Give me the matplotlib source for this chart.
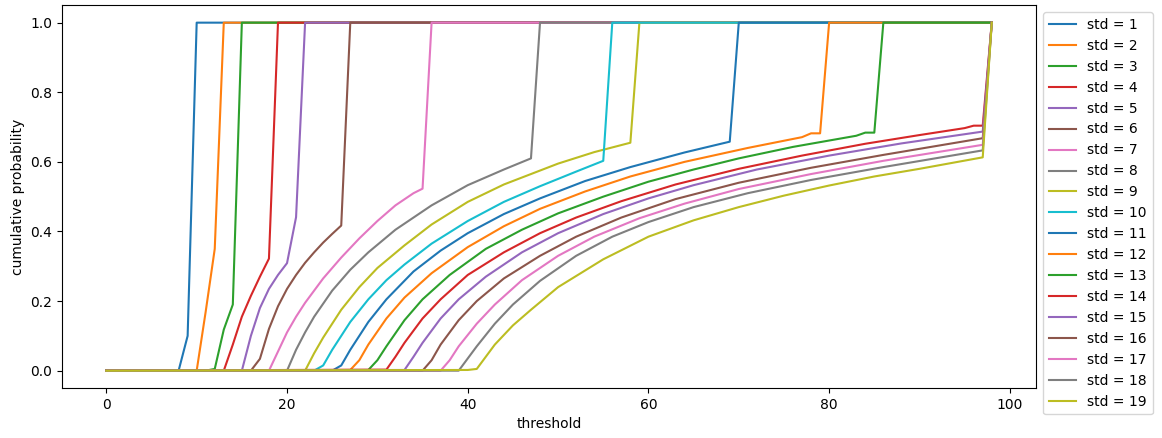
import matplotlib
matplotlib.use("Agg")
import matplotlib.pyplot as plt

# values (threshold -> cumulative probability)
t_std1 = [0, 8, 9, 10, 98]
p_std1 = [0, 0, 0.1, 1, 1]
t_std2 = [0, 10, 11, 12, 13, 98]
p_std2 = [0, 0, 0.17, 0.35, 1, 1]
t_std3 = [0, 11, 12, 13, 14, 15, 98]
p_std3 = [0, 0, 0.005, 0.118, 0.19, 1, 1]
t_std4 = [0, 13, 14, 15, 16, 17, 18, 19, 98]
p_std4 = [0, 0, 0.075, 0.155, 0.215, 0.27, 0.322, 1, 1]
t_std5 = [0, 15, 16, 17, 18, 19, 20, 21, 22, 98]
p_std5 = [0, 0, 0.1, 0.18, 0.235, 0.275, 0.309, 0.441, 1, 1]
t_std6 = [0, 16, 17, 18, 19, 20, 21, 22, 23, 24, 25, 26, 27, 98]
p_std6 = [0, 0, 0.034, 0.12, 0.185, 0.235, 0.275, 0.31, 0.34, 0.368, 0.393, 0.417, 1, 1]
t_std7 = [0, 18, 19, 20, 21, 22, 24, 26, 28, 30, 32, 34, 35, 36, 98]
p_std7 = [0, 0, 0.055, 0.11, 0.155, 0.195, 0.265, 0.325, 0.38, 0.43, 0.475, 0.51, 0.523, 1, 1]
t_std8 = [0, 20, 21, 22, 23, 25, 27, 29, 32, 36, 40, 44, 47, 48, 98]
p_std8 = [0, 0, 0.06, 0.11, 0.155, 0.23, 0.29, 0.34, 0.405, 0.475, 0.533, 0.578, 0.61, 1, 1]
t_std9 = [0, 22, 23, 24, 26, 28, 30, 33, 36, 40, 44, 50, 54, 58, 59, 98]
p_std9 = [0, 0, 0.05, 0.095, 0.175, 0.24, 0.295, 0.36, 0.42, 0.485, 0.535, 0.595, 0.628, 0.655, 1, 1]
t_std10 = [0, 23, 24, 25, 27, 29, 31, 33, 36, 40, 44, 48, 52, 55, 56, 98]
p_std10 = [0, 0, 0.015, 0.06, 0.14, 0.205, 0.26, 0.305, 0.365, 0.43, 0.485, 0.53, 0.572, 0.603, 1, 1]
t_std11 = [0, 25, 26, 27, 29, 31, 34, 37, 40, 44, 48, 53, 58, 64, 69, 70, 98]
p_std11 = [0, 0, 0.015, 0.06, 0.14, 0.205, 0.285, 0.345, 0.395, 0.45, 0.495, 0.545, 0.585, 0.627, 0.658, 1, 1]
t_std12 = [0, 27, 28, 29, 31, 33, 36, 40, 44, 48, 53, 58, 64, 71, 77, 78, 79, 80, 98]
p_std12 = [0, 0.002, 0.03, 0.075, 0.15, 0.21, 0.28, 0.355, 0.415, 0.465, 0.515, 0.558, 0.6, 0.64, 0.671, 0.682, 0.682, 1, 1]
t_std13 = [0, 29, 30, 31, 33, 35, 38, 42, 46, 50, 55, 60, 65, 70, 76, 83, 84, 85, 86, 98]
p_std13 = [0, 0.002, 0.03, 0.07, 0.145, 0.205, 0.275, 0.35, 0.405, 0.452, 0.5, 0.543, 0.578, 0.61, 0.643, 0.675, 0.684, 0.684, 1, 1]
t_std14 = [0, 31, 32, 33, 35, 37, 40, 44, 48, 52, 57, 63, 70, 77, 84, 90, 95, 96, 97, 98]
p_std14 = [0, 0.003, 0.04, 0.08, 0.15, 0.205, 0.275, 0.34, 0.395, 0.44, 0.487, 0.535, 0.58, 0.618, 0.652, 0.677, 0.697, 0.704, 0.704, 1]
t_std15 = [0, 33, 34, 35, 37, 39, 42, 46, 50, 55, 60, 65, 72, 80, 88, 97, 98]
p_std15 = [0, 0.002, 0.04, 0.08, 0.15, 0.205, 0.27, 0.34, 0.395, 0.45, 0.495, 0.533, 0.578, 0.618, 0.653, 0.687, 1]
t_std16 = [0, 35, 36, 37, 39, 41, 44, 48, 52, 57, 63, 70, 78, 86, 97, 98]
p_std16 = [0, 0, 0.03, 0.075, 0.145, 0.2, 0.265, 0.33, 0.385, 0.44, 0.493, 0.54, 0.583, 0.62, 0.668, 1]
t_std17 = [0, 37, 38, 39, 41, 43, 46, 50, 54, 59, 64, 70, 78, 86, 97, 98]
p_std17 = [0, 0, 0.03, 0.07, 0.135, 0.19, 0.26, 0.33, 0.385, 0.438, 0.48, 0.522, 0.565, 0.603, 0.649, 1]
t_std18 = [0, 39, 40, 41, 43, 45, 48, 52, 56, 60, 65, 71, 78, 86, 97, 98]
p_std18 = [0, 0, 0.035, 0.07, 0.135, 0.19, 0.258, 0.33, 0.385, 0.427, 0.47, 0.51, 0.548, 0.585, 0.633, 1]
t_std19 = [0, 40, 41, 42, 43, 45, 47, 50, 55, 60, 65, 70, 75, 80, 85, 90, 97, 98]
p_std19 = [0, 0.002, 0.005, 0.04, 0.075, 0.13, 0.175, 0.24, 0.32, 0.385, 0.432, 0.47, 0.503, 0.532, 0.558, 0.58, 0.613, 1]

series = [
    (t_std1, p_std1), (t_std2, p_std2), (t_std3, p_std3), (t_std4, p_std4),
    (t_std5, p_std5), (t_std6, p_std6), (t_std7, p_std7), (t_std8, p_std8),
    (t_std9, p_std9), (t_std10, p_std10), (t_std11, p_std11), (t_std12, p_std12),
    (t_std13, p_std13), (t_std14, p_std14), (t_std15, p_std15), (t_std16, p_std16),
    (t_std17, p_std17), (t_std18, p_std18), (t_std19, p_std19),
]

fig, ax = plt.subplots(figsize=(11.62, 4.38), dpi=100)
fig.subplots_adjust(left=0.0534, right=0.8916, bottom=0.114, top=0.988)

for i, (t, p) in enumerate(series):
    ax.plot(t, p, label=f'std = {i + 1}')

ax.set_xlabel('threshold')
ax.set_ylabel('cumulative probability')
ax.legend(loc='upper left', bbox_to_anchor=(1, 1))

fig.savefig('out.png', dpi=100)
